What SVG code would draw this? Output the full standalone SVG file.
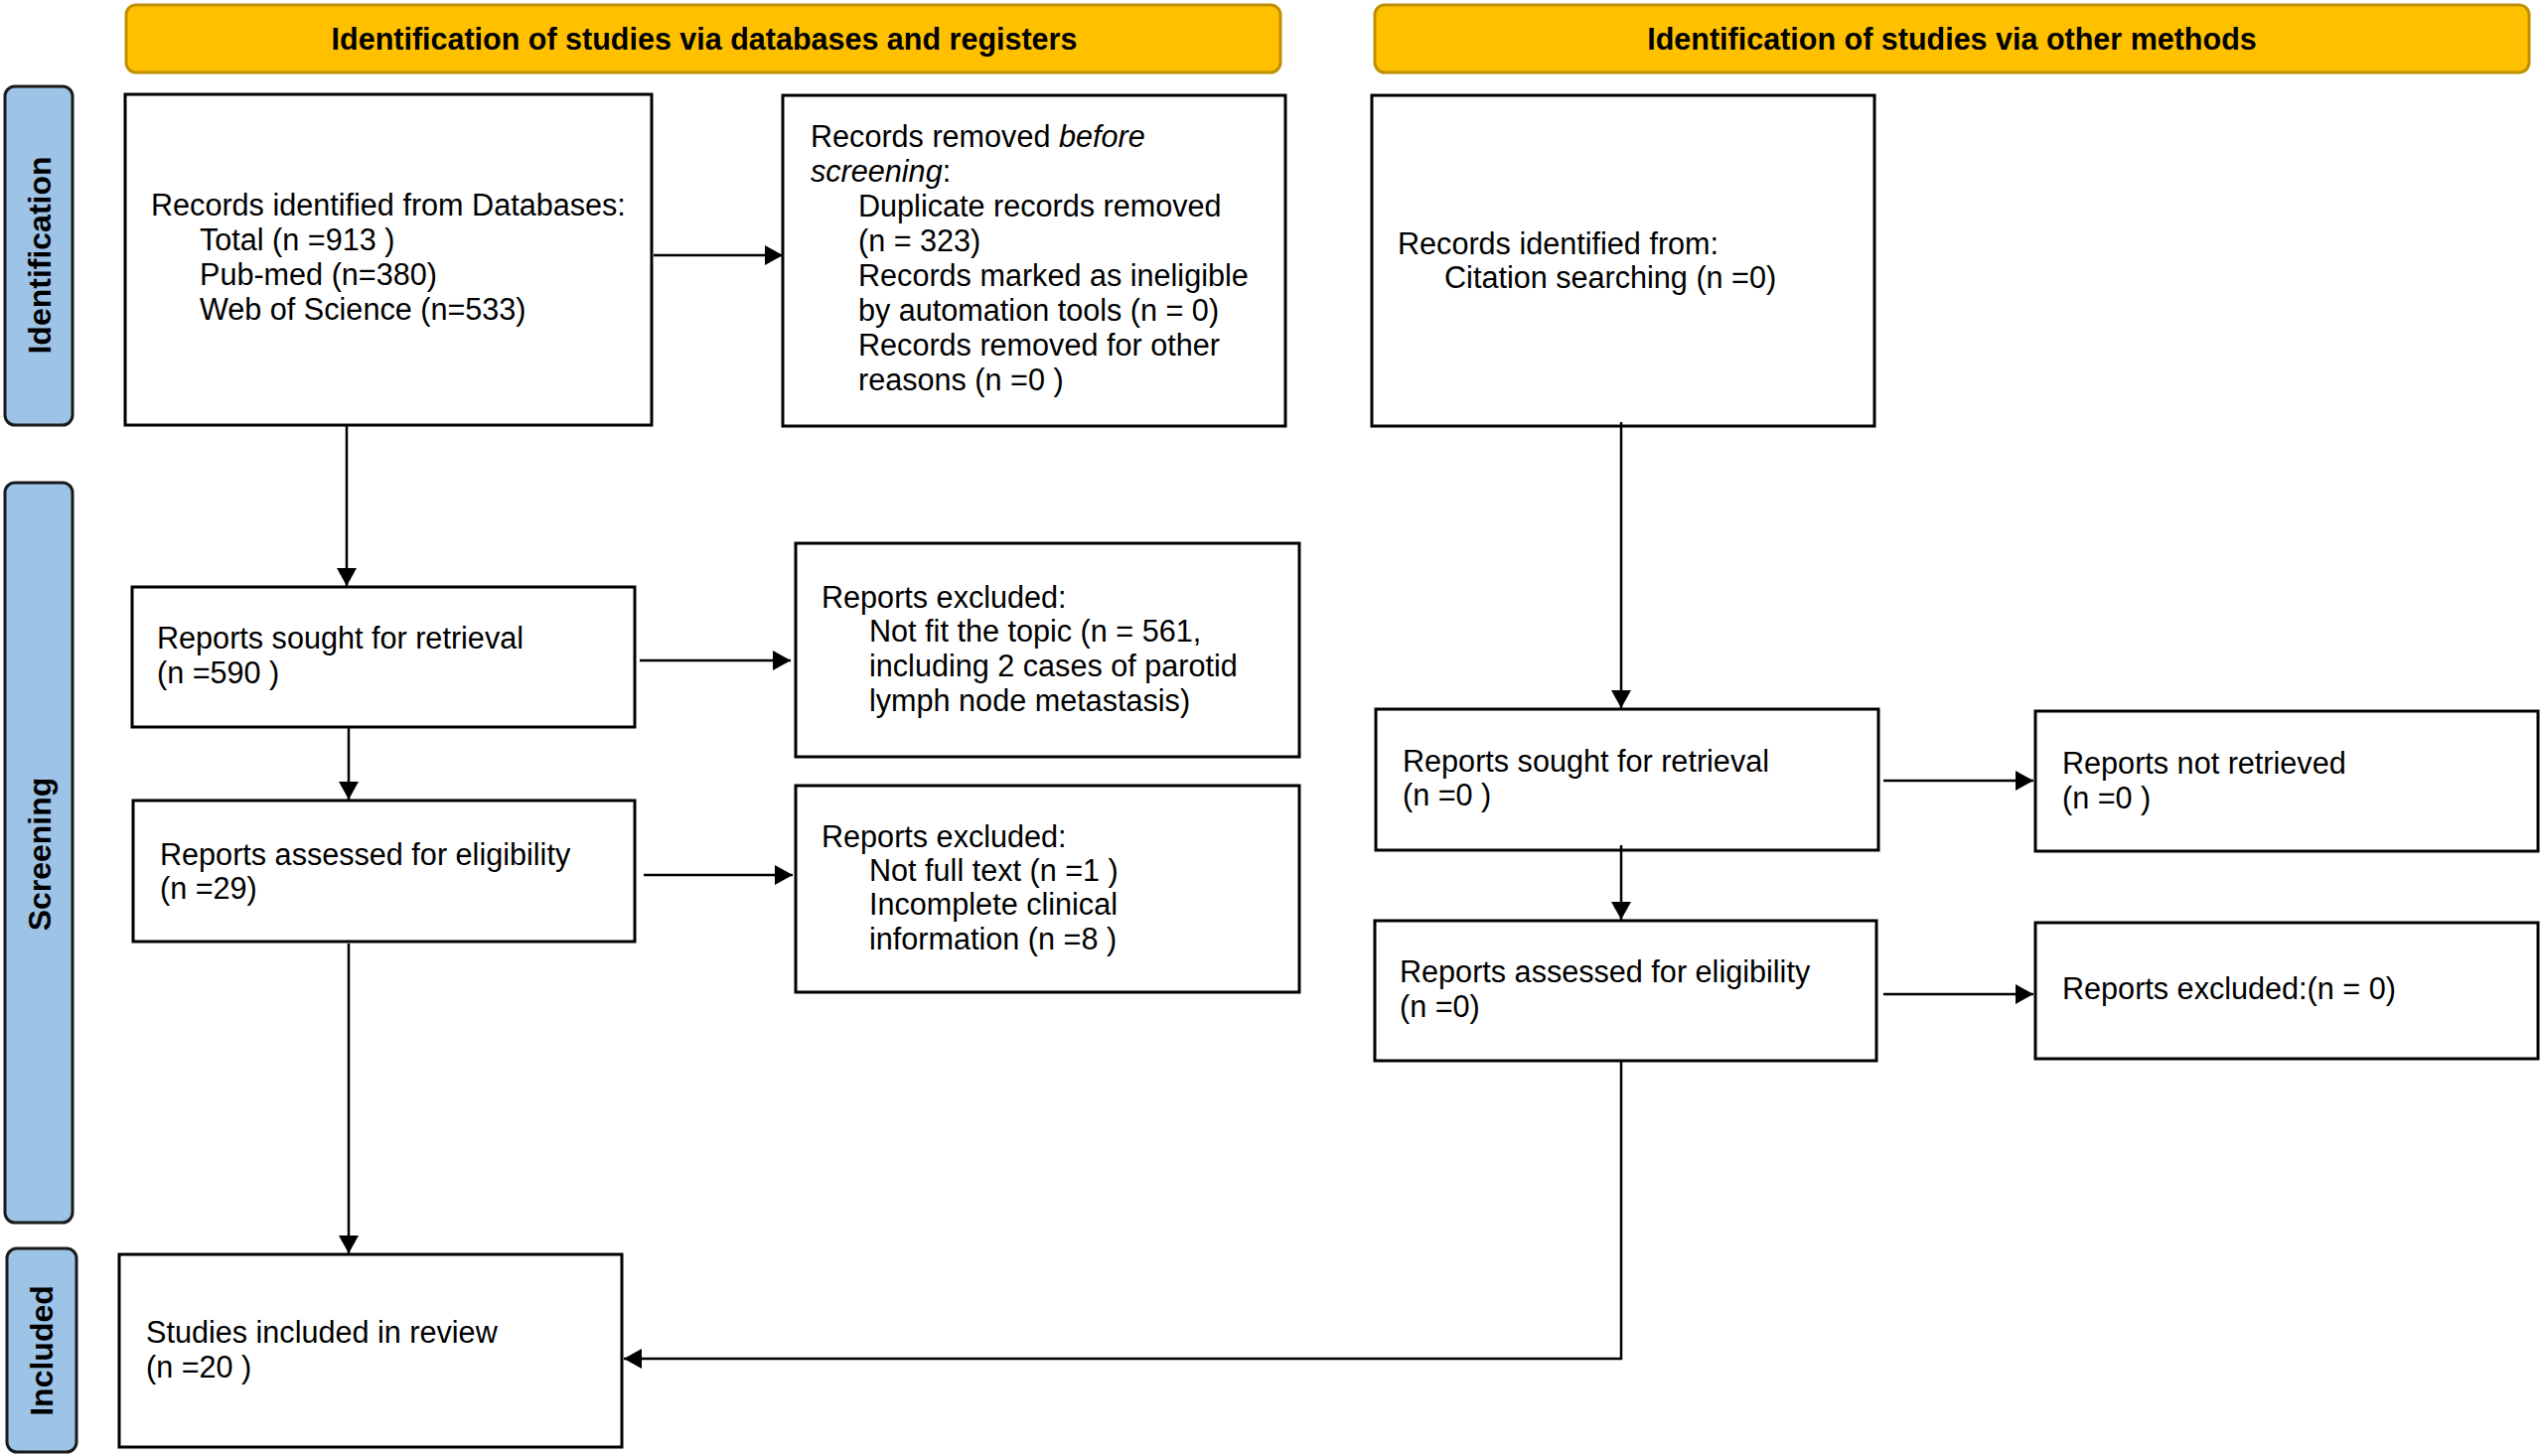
<svg xmlns="http://www.w3.org/2000/svg" width="2559" height="1466" viewBox="0 0 2559 1466">
<defs>
<marker id="arr" viewBox="0 0 18 20" markerWidth="18" markerHeight="20" refX="18" refY="10" orient="auto" markerUnits="userSpaceOnUse">
<path d="M0,0 L18,10 L0,20 z" fill="#000"/>
</marker>
</defs>
<style>
.hdr{fill:#FFC000;stroke:#BF9000;stroke-width:3}
.side{fill:#9DC3E6;stroke:#1a1a1a;stroke-width:3}
.box{fill:#fff;stroke:#000;stroke-width:3}
.ht{font-family:"Liberation Sans",Arial,sans-serif;font-weight:bold;font-size:30.5px;fill:#000;text-anchor:middle}
.st{font-family:"Liberation Sans",Arial,sans-serif;font-weight:bold;font-size:32px;fill:#000;text-anchor:middle}
.t{font-family:"Liberation Sans",Arial,sans-serif;font-size:30.6px;fill:#000}
.con{fill:none;stroke:#000;stroke-width:2.5;marker-end:url(#arr)}
</style>
<rect width="2559" height="1466" fill="#fff"/>

<g id="header-databases"><rect class="hdr" x="127" y="5" width="1162" height="68" rx="10"/><text class="ht" x="709" y="50">Identification of studies via databases and registers</text></g>
<g id="header-other"><rect class="hdr" x="1384" y="5" width="1162" height="68" rx="10"/><text class="ht" x="1965" y="50">Identification of studies via other methods</text></g>

<g id="side-identification"><rect class="side" x="5" y="87" width="68" height="341" rx="10"/><text class="st" transform="translate(51,257) rotate(-90)">Identification</text></g>
<g id="side-screening"><rect class="side" x="5" y="486" width="68" height="745" rx="10"/><text class="st" transform="translate(51,860) rotate(-90)">Screening</text></g>
<g id="side-included"><rect class="side" x="7" y="1257" width="70" height="205" rx="10"/><text class="st" transform="translate(53,1360) rotate(-90)">Included</text></g>

<g id="records-identified"><rect class="box" x="126" y="95" width="530" height="333"/>
<text class="t" x="152" y="217">Records identified from Databases:</text>
<text class="t" x="201" y="252">Total (n =913 )</text>
<text class="t" x="201" y="287">Pub-med (n=380)</text>
<text class="t" x="201" y="322">Web of Science (n=533)</text></g>

<g id="records-removed"><rect class="box" x="788" y="96" width="506" height="333"/>
<text class="t" x="816" y="148">Records removed <tspan font-style="italic">before</tspan></text>
<text class="t" x="816" y="183"><tspan font-style="italic">screening</tspan>:</text>
<text class="t" x="864" y="218">Duplicate records removed</text>
<text class="t" x="864" y="253">(n = 323)</text>
<text class="t" x="864" y="288">Records marked as ineligible</text>
<text class="t" x="864" y="323">by automation tools (n = 0)</text>
<text class="t" x="864" y="358">Records removed for other</text>
<text class="t" x="864" y="393">reasons (n =0 )</text></g>

<g id="records-other"><rect class="box" x="1381" y="96" width="506" height="333"/>
<text class="t" x="1407" y="256">Records identified from:</text>
<text class="t" x="1454" y="290">Citation searching (n =0)</text></g>

<g id="sought-db"><rect class="box" x="133" y="591" width="506" height="141"/>
<text class="t" x="158" y="653">Reports sought for retrieval</text>
<text class="t" x="158" y="688">(n =590 )</text></g>

<g id="excluded-topic"><rect class="box" x="801" y="547" width="507" height="215"/>
<text class="t" x="827" y="612">Reports excluded:</text>
<text class="t" x="875" y="646">Not fit the topic (n = 561,</text>
<text class="t" x="875" y="681">including 2 cases of parotid</text>
<text class="t" x="875" y="716">lymph node metastasis)</text></g>

<g id="assessed-db"><rect class="box" x="134" y="806" width="505" height="142"/>
<text class="t" x="161" y="871">Reports assessed for eligibility</text>
<text class="t" x="161" y="905">(n =29)</text></g>

<g id="excluded-db"><rect class="box" x="801" y="791" width="507" height="208"/>
<text class="t" x="827" y="853">Reports excluded:</text>
<text class="t" x="875" y="887">Not full text (n =1 )</text>
<text class="t" x="875" y="921">Incomplete clinical</text>
<text class="t" x="875" y="956">information (n =8 )</text></g>

<g id="sought-other"><rect class="box" x="1385" y="714" width="506" height="142"/>
<text class="t" x="1412" y="777">Reports sought for retrieval</text>
<text class="t" x="1412" y="811">(n =0 )</text></g>

<g id="not-retrieved"><rect class="box" x="2049" y="716" width="506" height="141"/>
<text class="t" x="2076" y="779">Reports not retrieved</text>
<text class="t" x="2076" y="814">(n =0 )</text></g>

<g id="assessed-other"><rect class="box" x="1384" y="927" width="505" height="141"/>
<text class="t" x="1409" y="989">Reports assessed for eligibility</text>
<text class="t" x="1409" y="1024">(n =0)</text></g>

<g id="excluded-other"><rect class="box" x="2049" y="929" width="506" height="137"/>
<text class="t" x="2076" y="1006">Reports excluded:(n = 0)</text></g>

<g id="included"><rect class="box" x="120" y="1263" width="506" height="194"/>
<text class="t" x="147" y="1352">Studies included in review</text>
<text class="t" x="147" y="1387">(n =20 )</text></g>

<g id="connectors">
<path class="con" d="M658,257 H788"/>
<path class="con" d="M349,428 V590"/>
<path class="con" d="M644,665 H796"/>
<path class="con" d="M351,733 V805"/>
<path class="con" d="M648,881 H798"/>
<path class="con" d="M351,950 V1262"/>
<path class="con" d="M1632,425 V713"/>
<path class="con" d="M1896,786 H2047"/>
<path class="con" d="M1632,851 V926"/>
<path class="con" d="M1896,1001 H2047"/>
<path class="con" d="M1632,1067 V1368 H628"/>
</g>
</svg>
